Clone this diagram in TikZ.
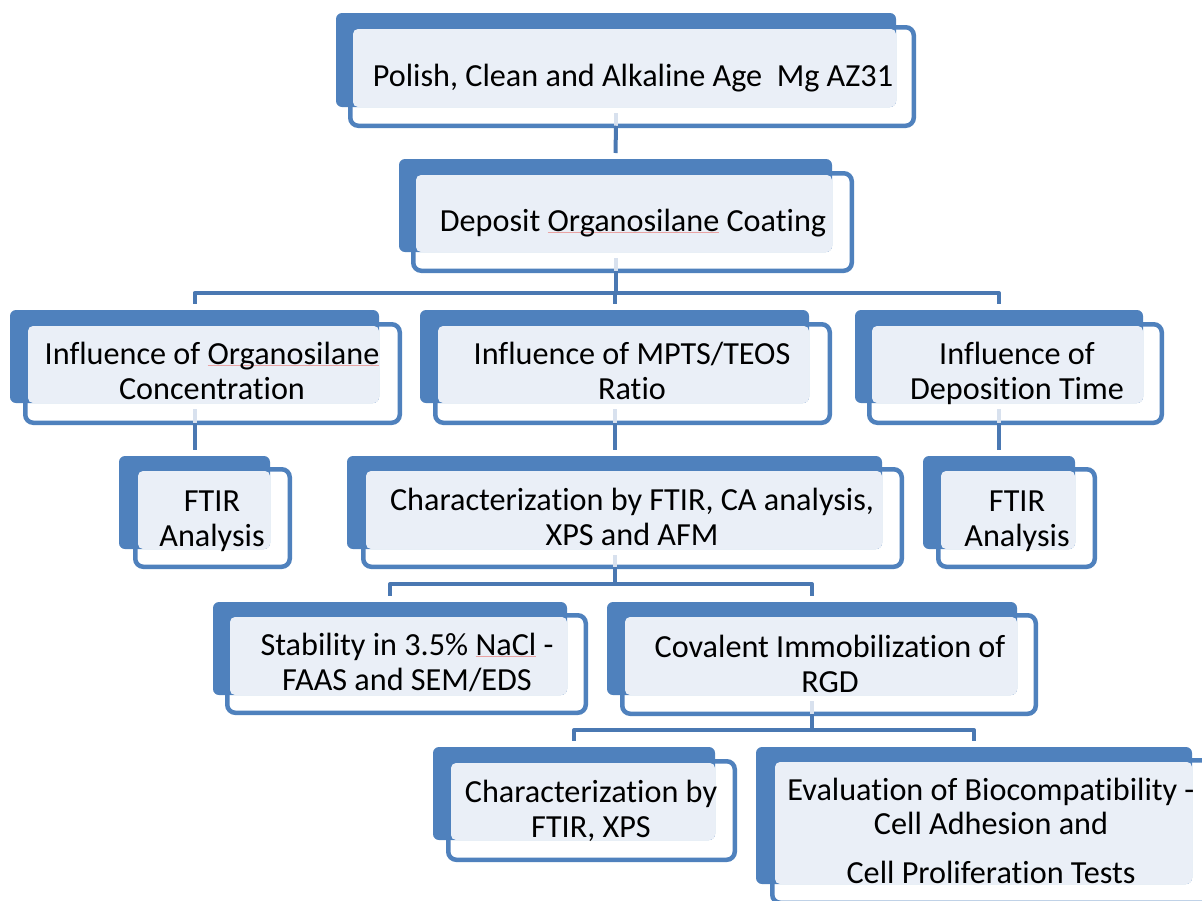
\documentclass[tikz,border=0pt]{standalone}
\usepackage{fontspec}
\setmainfont{Carlito}[Ligatures={NoCommon}]
\definecolor{skblue}{HTML}{4F81BD}
\definecolor{sklight}{HTML}{EAEFF7}
\definecolor{skline}{HTML}{4A78B2}
\definecolor{skpale}{HTML}{D8E1EE}
\definecolor{skred}{HTML}{E9A3A3}
\newcommand\squig[1]{\leavevmode\setbox0=\hbox{#1}\rlap{\color{skred}\rule[-1.6pt]{\wd0}{0.8pt}}\box0\relax}
\newcommand\skbox[9]{%
  \node[outl, minimum width={#8-#6-4.5}, minimum height={#9-#7-4.5}] (#1o) at ({(#6+#8)/2},{(#7+#9)/2}) {};
  \node[darkb, minimum width={#4-#2}, minimum height={#5-#3}] (#1d) at ({(#2+#4)/2},{(#3+#5)/2}) {};
  \node[lightb, minimum width={#4-#6-5}, minimum height={#5-#7-4}] (#1l) at ({(#6+5+#4)/2},{(#7+4+#5)/2}) {};
}
\tikzset{
  outl/.style={draw=skblue, line width=4.5pt, fill=white, rounded corners=8pt, inner sep=0pt, outer sep=0pt},
  darkb/.style={fill=skblue, rounded corners=6pt, inner sep=0pt, outer sep=0pt},
  lightb/.style={fill=sklight, rounded corners=5pt, inner sep=0pt, outer sep=0pt},
  txt/.style={align=center, anchor=base, inner sep=0pt, font=\fontsize{32.2}{34.5}\selectfont},
  conn/.style={draw=skline, line width=4pt, line join=round},
  pale/.style={draw=skpale, line width=4pt},
}
\begin{document}
\begin{tikzpicture}[x=1pt,y=-1pt]
\useasboundingbox (0,0) rectangle (1202,900);
\clip (0,0) rectangle (1202,900);
\fill[white] (0,0) rectangle (1202,900);
% boxes: name, dark L T R B, outline L T R B
\skbox{b1}{336}{13}{896}{107}{348}{25}{916}{128}
\skbox{b2}{399}{159}{832}{252}{411}{171}{854}{273}
\skbox{b3}{10}{310}{379}{403}{23}{322}{402}{425}
\skbox{b4}{420}{310}{809}{403}{433}{322}{832}{425}
\skbox{b5}{855}{310}{1143}{403}{867}{322}{1164}{425}
\skbox{b6}{119}{456}{270}{549}{133}{467}{292}{569}
\skbox{b7}{347}{456}{882}{549}{361}{467}{904}{569}
\skbox{b8}{923}{456}{1075}{549}{936}{467}{1097}{569}
\skbox{b9}{213}{602}{567}{695}{225}{613}{588}{715}
\skbox{b10}{607}{602}{1017}{695}{620}{613}{1038}{716}
\skbox{b11}{433}{747}{715}{840}{446}{759}{737}{862}
\skbox{b12}{756}{747}{1192}{884}{770}{758}{1215}{905}
% bus levels
\coordinate (busA) at (0,293);
\coordinate (busB) at (0,584);
\coordinate (busC) at (0,730);
% pale segments inside parent boxes
\foreach \p in {b1,b2,b3,b4,b5,b7,b10}{
  \draw[pale] ([yshift=-6pt]\p d.south) -- (\p d.south |- \p o.south);
}
% connectors
\draw[conn] (b1d.south |- b1o.south) -- ([yshift=6pt]b2d.north);
\draw[conn] (b2d.south |- b2o.south) -- (b2d.south |- busA) -| ([yshift=6pt]b3d.north);
\draw[conn] (b2d.south |- busA) -| ([yshift=6pt]b5d.north);
\draw[conn] (b2d.south |- busA) -| ([yshift=6pt]b4d.north);
\draw[conn] (b3d.south |- b3o.south) -- ([yshift=6pt]b6d.north);
\draw[conn] (b4d.south |- b4o.south) -- ([yshift=6pt]b7d.north);
\draw[conn] (b5d.south |- b5o.south) -- ([yshift=6pt]b8d.north);
\draw[conn] (b7d.south |- b7o.south) -- (b7d.south |- busB) -| ([yshift=6pt]b9d.north);
\draw[conn] (b7d.south |- busB) -| ([yshift=6pt]b10d.north);
\draw[conn] (b10d.south |- b10o.south) -- (b10d.south |- busC) -| ([yshift=6pt]b11d.north);
\draw[conn] (b10d.south |- busC) -| ([yshift=6pt]b12d.north);
% texts (anchored at the baseline of the last line)
\node[txt] (t1) at (633,86) {Polish, Clean and Alkaline Age\ \ Mg AZ31};
\node[txt] (t2) at (633,231) {Deposit \squig{Organosilane} Coating};
\node[txt] (t3) at (212,399) {Influence of \squig{Organosilane}\\Concentration};
\node[txt] (t4) at (632,399) {Influence of MPTS/TEOS\\Ratio};
\node[txt] (t5) at (1017,399) {Influence of\\Deposition Time};
\node[txt] (t6) at (212,546) {FTIR\\Analysis};
\node[txt] (t7) at (632,545) {Characterization by FTIR, CA analysis,\\XPS and AFM};
\node[txt] (t8) at (1017,546) {FTIR\\Analysis};
\node[txt] (t9) at (407,690) {Stability in 3.5\% \squig{NaCl} -\\FAAS and SEM/EDS};
\node[txt] (t10) at (830,692) {Covalent Immobilization of\\RGD};
\node[txt] (t11) at (591,837) {Characterization by\\FTIR, XPS};
\node[txt] (t12) at (991,883) {Evaluation of Biocompatibility -\\Cell Adhesion and\\[14pt]Cell Proliferation Tests};
\end{tikzpicture}
\end{document}
